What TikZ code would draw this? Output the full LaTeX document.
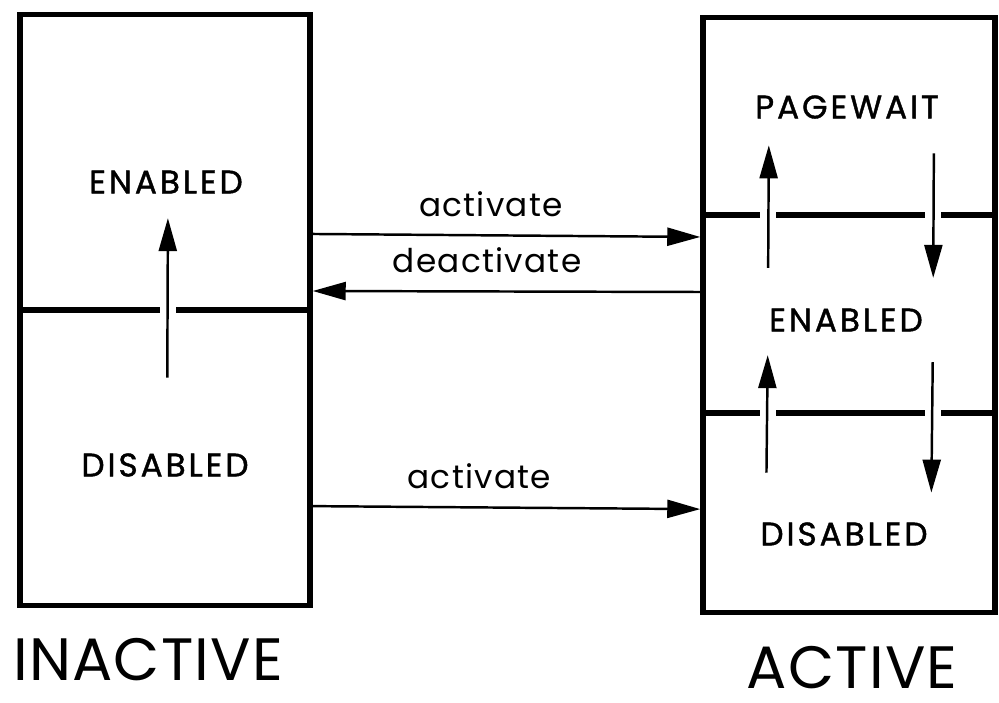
\documentclass[tikz,border=0pt]{standalone}
\usepackage{fontspec}
\setmainfont{Poppins}
\usetikzlibrary{arrows.meta}

\begin{document}
\begin{tikzpicture}[
  x=0.01cm, y=-0.01cm,
  frame/.style={draw, line width=1.5pt, minimum width=2.9cm, inner sep=0pt},
  bar/.style={line width=1.7pt},
  state/.style={inner sep=0pt, font=\fontsize{9.3}{10}\selectfont\addfontfeature{LetterSpace=9, FakeBold=1.2}},
  event/.style={inner sep=1pt, font=\fontsize{9.3}{10}\selectfont\addfontfeature{LetterSpace=4}},
  side/.style={inner sep=0pt, font=\fontsize{17}{20}\selectfont\addfontfeature{LetterSpace=2}},
  trans/.style={-{Triangle[length=3.3mm, width=1.8mm]}, line width=0.7pt},
  move/.style={-{Triangle[length=3.3mm, width=1.8mm]}, line width=0.7pt}
]
\useasboundingbox (0,0) rectangle (999,702);

\node[frame, minimum height=5.9cm] (inactive) at (165,310) {};
\node[frame, minimum width=2.92cm, minimum height=5.94cm] (active) at (849,315) {};

\draw[bar] (20,310) -- (160,310) (176,310) -- (310,310);
\draw[bar] (705,215) -- (760,215) (776,215) -- (925,215) (941,215) -- (995,215);
\draw[bar] (705,413) -- (760,413) (776,413) -- (925,413) (941,413) -- (995,413);

\node[state] (ien) at (166,182) {ENABLED};
\node[state] (idis) at (165,465) {DISABLED};
\node[state] (apw) at (847,107) {PAGEWAIT};
\node[state] (aen) at (846,320) {ENABLED};
\node[state] (adis) at (844,534) {DISABLED};

\node[side] (inlabel) at (148,660) {INACTIVE};
\node[side] (aclabel) at (852,668) {ACTIVE};

\draw[move, shorten <=0.75cm, shorten >=0.24cm] ([xshift=0.02cm]idis.north) -- ([xshift=0.02cm]ien.south);
\draw[move, shorten <=0.40cm, shorten >=0.26cm] ([xshift=-0.78cm]aen.north) -- ([xshift=-0.78cm]apw.south);
\draw[move, shorten <=0.34cm, shorten >=0.30cm] ([xshift=0.87cm]apw.south) -- ([xshift=0.87cm]aen.north);
\draw[move, shorten <=0.49cm, shorten >=0.23cm] ([xshift=-0.78cm]adis.north) -- ([xshift=-0.78cm]aen.south);
\draw[move, shorten <=0.30cm, shorten >=0.29cm] ([xshift=0.87cm]aen.south) -- ([xshift=0.87cm]adis.north);

\draw[trans] ([yshift=0.76cm]inactive.east) -- node[event, above=4pt, pos=0.46] {activate} ([yshift=0.78cm]active.west);
\draw[trans] ([yshift=0.23cm]active.west) -- node[event, above=4pt, pos=0.55] {deactivate} ([yshift=0.19cm]inactive.east);
\draw[trans] ([yshift=-1.96cm]inactive.east) -- node[event, above=4pt, pos=0.43] {activate} ([yshift=-1.94cm]active.west);
\end{tikzpicture}
\end{document}
